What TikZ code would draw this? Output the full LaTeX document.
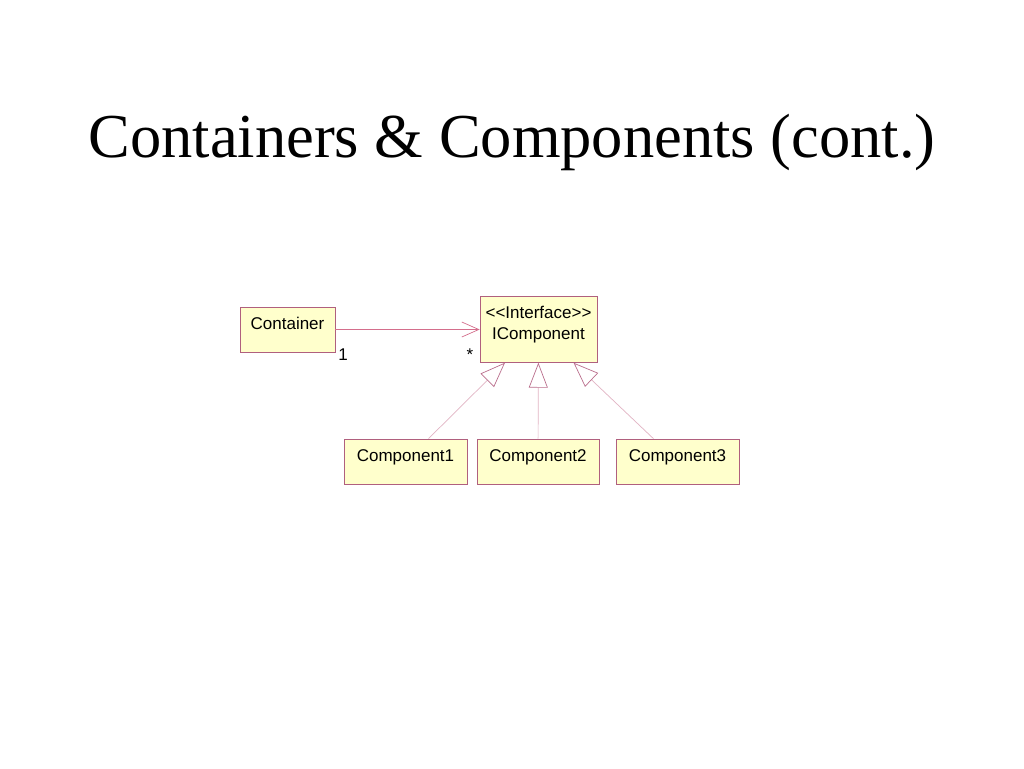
\documentclass[tikz,border=0pt]{standalone}
\usepackage{fontspec}
\setmainfont{Liberation Serif}
\setsansfont{Liberation Sans}
\usetikzlibrary{positioning,arrows.meta}

\definecolor{boxline}{RGB}{176,96,126}
\definecolor{boxfill}{RGB}{255,255,204}
\definecolor{assocline}{RGB}{212,110,140}
\definecolor{genline}{RGB}{226,180,196}
\definecolor{triline}{RGB}{186,110,140}

\tikzset{
  cls/.style={draw=boxline,fill=boxfill,line width=0.7pt,inner sep=0pt,
    text height=22pt,text depth=23pt,font=\sffamily\fontsize{17}{21}\selectfont},
  assoc/.style={draw=assocline,line width=0.7pt,-{Straight Barb[length=17pt,width=15pt]}},
  gen/.style={draw=genline,line width=0.7pt,-{Triangle[open,length=25pt,width=19pt,color=triline]}},
  mult/.style={font=\sffamily\fontsize{17}{21}\selectfont,inner sep=0pt}
}

\begin{document}
\begin{tikzpicture}[x=1pt,y=-1pt]
\useasboundingbox[fill=white] (0,0) rectangle (1024,768);

\node[anchor=base,font=\fontsize{62.5}{75}\selectfont,inner sep=0pt](title) at (512,157) {Containers \& Components (cont.)};

\node[cls,minimum width=95pt,anchor=base](cont) at (287.5,329) {Container};
\node[cls,minimum width=117pt,text height=43pt,align=center,anchor=north](ic) at (538.5,296) {{<}{<}Interface{>}{>}\\IComponent};

\node[cls,minimum width=123pt,anchor=base](c1) at (405.5,461) {Component1};
\node[cls,minimum width=122pt,anchor=base](c2) at (538,461) {Component2};
\node[cls,minimum width=123pt,anchor=base](c3) at (677.5,461) {Component3};

\node[mult,anchor=base](one) at (343,360) {1};
\node[mult,anchor=base](many) at (470,360) {*};

\draw[assoc](cont.east)--(cont.east -| ic.west);

\foreach \c in {c1,c2,c3}{
	\draw[gen](\c)--(ic);
}

\end{tikzpicture}
\end{document}
